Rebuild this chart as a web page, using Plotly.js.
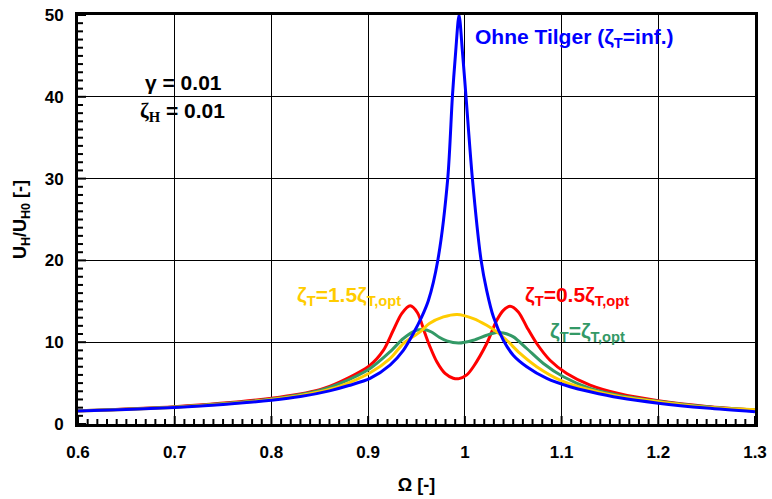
<!DOCTYPE html>
<html>
<head>
<meta charset="utf-8">
<script src="https://cdn.plot.ly/plotly-3.0.1.min.js"></script>
<style>html,body{margin:0;padding:0;background:#fff;}#chart{width:772px;height:499px;}</style>
</head>
<body>
<div id="chart"></div>
<script>
// Ohne Tilger (blue)
const blueX = [0.60,0.65,0.70,0.75,0.80,0.83,0.86,0.88,0.902,0.9226,0.9364,0.9467,0.9554,0.9623,0.972,0.9823,0.9871,0.9905,0.994,0.9975,1.0012,1.0078,1.0168,1.0226,1.0295,1.0398,1.050,1.064,1.0847,1.1088,1.1295,1.16,1.20,1.25,1.30];
const blueY = [1.58,1.78,2.02,2.38,2.9,3.35,4.05,4.7,5.57,7.2,9.0,11.06,13.09,15.1,20,30,40,45.5,50,45.5,40,30,20,16.3,13.1,10.24,8.41,7.0,5.57,4.55,3.94,3.2,2.55,1.95,1.5];
// zeta_T = 0.5 zeta_T,opt (red)
const redX = [0.60,0.70,0.80,0.85,0.871,0.902,0.9157,0.926,0.9347,0.9435,0.951,0.9588,0.964,0.971,0.9795,0.988,0.994,1.002,1.0088,1.0226,1.033,1.0398,1.0467,1.0553,1.064,1.0743,1.088,1.1054,1.1295,1.16,1.20,1.25,1.30];
const redY = [1.63,2.12,3.15,4.2,5.16,7.2,9.0,11.46,13.5,14.45,13.6,11.06,9.43,7.6,6.18,5.6,5.55,6.0,7.0,9.84,12.68,13.9,14.4,13.7,11.87,9.84,7.8,6.18,4.76,3.7,2.85,2.15,1.72];
// zeta_T = zeta_T,opt (green)
const greenX = [0.60,0.70,0.80,0.85,0.871,0.902,0.9226,0.9364,0.950,0.9575,0.9655,0.9735,0.9813,0.9935,1.0088,1.0226,1.033,1.0398,1.0502,1.064,1.0812,1.1019,1.1295,1.16,1.20,1.25,1.30];
const greenY = [1.62,2.08,3.05,4.1,4.96,6.79,8.82,10.45,11.46,11.55,11.25,10.6,10.16,9.9,10.24,10.85,11.18,11.13,10.65,9.23,7.4,5.77,4.35,3.5,2.78,2.1,1.7];
// zeta_T = 1.5 zeta_T,opt (yellow)
const yellowX = [0.60,0.70,0.80,0.85,0.871,0.902,0.9226,0.9364,0.9537,0.9633,0.9778,0.992,1.0088,1.0226,1.033,1.0433,1.0571,1.0743,1.0984,1.1295,1.16,1.20,1.25,1.30];
const yellowY = [1.6,2.05,3.0,3.95,4.63,6.26,8.0,9.84,11.26,12.28,13.09,13.4,12.89,12.07,11.26,10.24,8.62,7.0,5.37,4.15,3.35,2.72,2.05,1.75];

const xRange = [0.6, 1.3], yRange = [0, 50];
const xTick0 = 0.6, xDtick = 0.1, xMinorDtick = 0.01;
const yTick0 = 0, yDtick = 10, yMinorDtick = 1;

const FONT = 'Liberation Sans, Arial, sans-serif';
const W = 772, H = 499, M = {l: 78, r: 17, t: 15, b: 75};
const plotW = W - M.l - M.r, plotH = H - M.t - M.b;

const mk = (x, y, color) => ({x: x, y: y, type: 'scatter', mode: 'lines', line: {color: color, width: 3, shape: 'spline', smoothing: 0.8}, hoverinfo: 'skip', showlegend: false});

const data = [
  mk(redX, redY, '#FF0000'),
  mk(greenX, greenY, '#339966'),
  mk(yellowX, yellowY, '#FFCC00'),
  mk(blueX, blueY, '#0000FF')
];

// inside tick marks along the bottom and left axes (axis decoration)
const shapes = [];
const nX = Math.round((xRange[1] - xRange[0]) / xMinorDtick);
for (let i = 0; i <= nX; i++) {
  const v = xRange[0] + i * xMinorDtick;
  const major = i % Math.round(xDtick / xMinorDtick) === 0;
  const len = (major ? 8 : 5) / plotH;
  shapes.push({type: 'line', xref: 'x', yref: 'paper', x0: v, x1: v, y0: 0, y1: len, line: {color: '#000', width: 2}, layer: 'above'});
}
const nY = Math.round((yRange[1] - yRange[0]) / yMinorDtick);
for (let i = 0; i <= nY; i++) {
  const v = yRange[0] + i * yMinorDtick;
  const major = i % Math.round(yDtick / yMinorDtick) === 0;
  const len = (major ? 8 : 5) / plotW;
  shapes.push({type: 'line', xref: 'paper', yref: 'y', x0: 0, x1: len, y0: v, y1: v, line: {color: '#000', width: 2}, layer: 'above'});
}

const zs = '<span style="font-family:Liberation Serif, Times New Roman, serif">ζ</span>';
const px = v => (v - M.l) / plotW;
const py = v => (H - M.b - v) / plotH;

const layout = {
  width: W, height: H,
  margin: M,
  paper_bgcolor: '#fff', plot_bgcolor: '#fff',
  font: {family: FONT, color: '#000'},
  xaxis: {
    range: xRange, tick0: xTick0, dtick: xDtick, tickmode: 'linear',
    showgrid: true, gridcolor: '#000', gridwidth: 1,
    showline: true, linecolor: '#000', linewidth: 3, mirror: true,
    ticks: '',
    tickfont: {family: FONT, size: 17, color: '#000', weight: 'bold'},
    ticklabelstandoff: 11,
    zeroline: false,
    title: {text: '<b>Ω [-]</b>', font: {family: FONT, size: 18, color: '#000'}, standoff: 17}
  },
  yaxis: {
    range: yRange, tick0: yTick0, dtick: yDtick, tickmode: 'linear',
    showgrid: true, gridcolor: '#000', gridwidth: 1,
    showline: true, linecolor: '#000', linewidth: 3, mirror: true,
    ticks: '',
    tickfont: {family: FONT, size: 17, color: '#000', weight: 'bold'},
    ticklabelstandoff: 8,
    zeroline: false,
    title: {text: '<b>U<sub>H</sub>/U<sub>H0</sub> [-]</b>', font: {family: FONT, size: 18, color: '#000'}, standoff: 14}
  },
  shapes: shapes,
  annotations: [
    {xref: 'paper', yref: 'paper', x: px(183), y: py(82), text: '<b>γ = 0.01</b>', showarrow: false, font: {family: FONT, size: 21, color: '#000'}, xanchor: 'center', yanchor: 'middle'},
    {xref: 'paper', yref: 'paper', x: px(182), y: py(112), text: '<b>' + zs + '<sub><span style="font-family:Liberation Serif, serif">H</span></sub> = 0.01</b>', showarrow: false, font: {family: FONT, size: 21, color: '#000'}, xanchor: 'center', yanchor: 'middle'},
    {xref: 'paper', yref: 'paper', x: px(473), y: py(38), text: '<b>Ohne Tilger (ζ<sub>T</sub>=inf.)</b>', showarrow: false, font: {family: FONT, size: 21, color: '#0000FF'}, xanchor: 'left', yanchor: 'middle'},
    {xref: 'paper', yref: 'paper', x: px(295), y: py(296), text: '<b>ζ<sub>T</sub>=1.5ζ<sub>T,opt</sub></b>', showarrow: false, font: {family: FONT, size: 21, color: '#FFCC00'}, xanchor: 'left', yanchor: 'middle'},
    {xref: 'paper', yref: 'paper', x: px(523), y: py(296), text: '<b>ζ<sub>T</sub>=0.5ζ<sub>T,opt</sub></b>', showarrow: false, font: {family: FONT, size: 21, color: '#FF0000'}, xanchor: 'left', yanchor: 'middle'},
    {xref: 'paper', yref: 'paper', x: px(548), y: py(332), text: '<b>ζ<sub>T</sub>=ζ<sub>T,opt</sub></b>', showarrow: false, font: {family: FONT, size: 21, color: '#339966'}, xanchor: 'left', yanchor: 'middle'}
  ]
};

Plotly.newPlot('chart', data, layout, {staticPlot: true, displayModeBar: false});
</script>
</body>
</html>
